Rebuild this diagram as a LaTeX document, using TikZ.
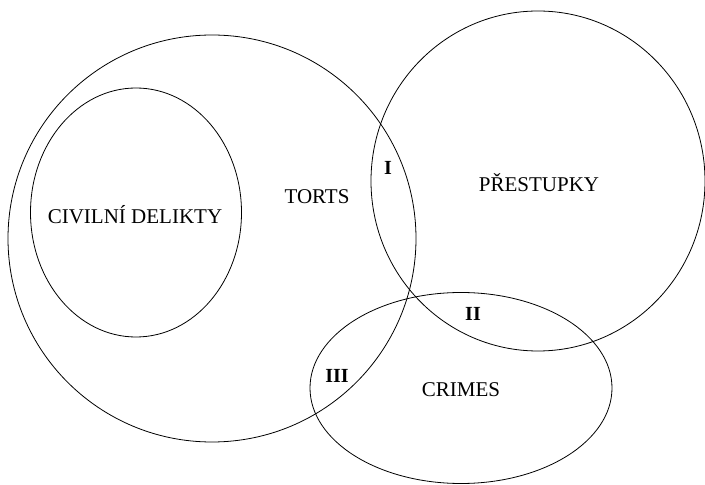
\documentclass[tikz,border=0pt]{standalone}
\usepackage{fontspec}
\setmainfont{Liberation Serif}
\begin{document}
\begin{tikzpicture}[x=1pt,y=1pt,
  setline/.style={draw=black,line width=0.8pt},
  lbl/.style={font=\fontsize{21}{24}\selectfont,inner sep=0pt,anchor=center},
  roman/.style={font=\fontsize{20}{24}\selectfont\bfseries,inner sep=0pt,anchor=center}]
\useasboundingbox (0,0) rectangle (705,485);
\draw[setline] (212,246.5) ellipse [x radius=204, y radius=203.5];
\draw[setline] (136,272.5) ellipse [x radius=105.5, y radius=124.5];
\draw[setline] (538,304) ellipse [x radius=167, y radius=170];
\draw[setline] (461,97) ellipse [x radius=151, y radius=95.5];
\node[lbl] (civ) at (135,270) {CIVILNÍ DELIKTY};
\node[lbl] (torts) at (317,288) {TORTS};
\node[lbl] (pre) at (539,302) {PŘESTUPKY};
\node[lbl] (crimes) at (461,95) {CRIMES};
\node[roman] (one) at (388,317) {I};
\node[roman] (two) at (473,171.5) {II};
\node[roman] (three) at (337,109) {III};
\end{tikzpicture}
\end{document}
